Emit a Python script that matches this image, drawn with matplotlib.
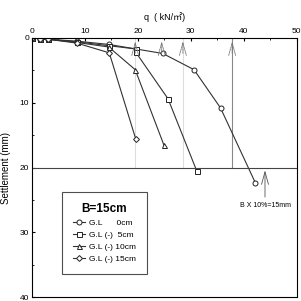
import numpy as np
import matplotlib.pyplot as plt

plt.rcParams['font.family'] = ['Liberation Sans', 'Noto Sans CJK KR', 'DejaVu Sans']

# load (kN/m2) and settlement (mm) for each embedment depth
q_0 = [0, 1.5, 3, 8.5, 14.5, 24.7, 30.6, 35.6, 42.2]
s_0 = [0, 0.1, 0.2, 0.5, 1.0, 2.4, 4.9, 10.8, 22.4]
q_5 = [0, 1.5, 3, 8.5, 14.5, 19.6, 19.6, 25.7, 31.1]
s_5 = [0, 0.1, 0.2, 0.6, 1.2, 1.7, 2.2, 9.4, 20.5]
q_10 = [0, 1.5, 3, 8.5, 14.5, 19.5, 24.9]
s_10 = [0, 0.1, 0.2, 0.7, 1.4, 4.9, 16.5]
q_15 = [0, 1.5, 3, 8.5, 14.6, 19.6]
s_15 = [0, 0.1, 0.2, 0.8, 2.3, 15.6]

labels = ["G.L      0cm", "G.L (-)  5cm", "G.L (-) 10cm", "G.L (-) 15cm"]
markers = ['o', 's', '^', 'D']

# ultimate load marks and settlement criterion
q_ult = [19.5, 24.5, 28.5, 37.8]
s_limit = 20
q_limit_arrow = 44

fig = plt.figure(figsize=(3.01, 3.01), dpi=100)
ax = fig.add_axes([0.106, 0.013, 0.880, 0.861])

series = [(q_0, s_0), (q_5, s_5), (q_10, s_10), (q_15, s_15)]
for (q, s), lab, m in zip(series, labels, markers):
    ax.plot(q, s, color='#333333', lw=0.8, marker=m, ms=3.6 if m != 'D' else 3.0,
            mfc='white', mec='#222222', mew=0.7, label=lab)

# settlement limit line
ax.axhline(s_limit, color='#444444', lw=0.8)
# gray guide lines
ax.plot([q_ult[0], q_ult[0]], [0, s_limit], color='#dddddd', lw=0.8, zorder=0)
ax.plot([q_ult[2], q_ult[2]], [0, s_limit], color='#dddddd', lw=0.8, zorder=0)
ax.plot([q_ult[3], q_ult[3]], [0, s_limit], color='#888888', lw=0.8, zorder=0)

# dashed arrows marking ultimate loads
for qu in q_ult:
    ax.annotate('', xy=(qu, 0.1), xytext=(qu, 2.8),
                arrowprops=dict(arrowstyle='->,head_length=0.9,head_width=0.25',
                                color='#777777', lw=0.6, ls=(0, (2, 1))))

ax.annotate('', xy=(q_limit_arrow, s_limit), xytext=(q_limit_arrow, 25),
            arrowprops=dict(arrowstyle='->,head_length=0.9,head_width=0.25',
                            color='#555555', lw=0.6))
ax.text(q_limit_arrow, 25.3, 'B X 10%=15mm', fontsize=5, ha='center', va='top')

ax.set_xlim(0, 50)
ax.set_ylim(40, 0)
ax.xaxis.tick_top()
ax.set_xticks(np.arange(0, 51, 10))
ax.set_xticks(np.arange(0, 51, 5), minor=True)
ax.set_yticks(np.arange(0, 41, 10))
ax.set_yticks(np.arange(0, 41, 5), minor=True)
ax.tick_params(which='both', direction='in', labelsize=6, pad=2, length=2.5)
ax.tick_params(which='minor', length=1.5)
ax.tick_params(axis='x', which='both', top=True, bottom=False)
ax.tick_params(axis='y', which='both', left=True, right=False)
for sp in ax.spines.values():
    sp.set_linewidth(0.8)

ax.set_xlabel('q  ( kN/㎡)', fontsize=6.5, labelpad=6)
ax.xaxis.set_label_position('top')
ax.set_ylabel('Settlement (mm)', fontsize=7, labelpad=6)

leg = ax.legend(loc='upper left', bbox_to_anchor=(0.098, 0.42), fontsize=6,
                title='B=15cm', title_fontproperties={'weight': 'bold', 'size': 8.5},
                frameon=True, fancybox=False, edgecolor='#222222',
                handlelength=1.5, handletextpad=0.4, labelspacing=0.5,
                borderpad=1.3)
leg.get_frame().set_linewidth(0.8)

fig.savefig('out.png', dpi=100)
